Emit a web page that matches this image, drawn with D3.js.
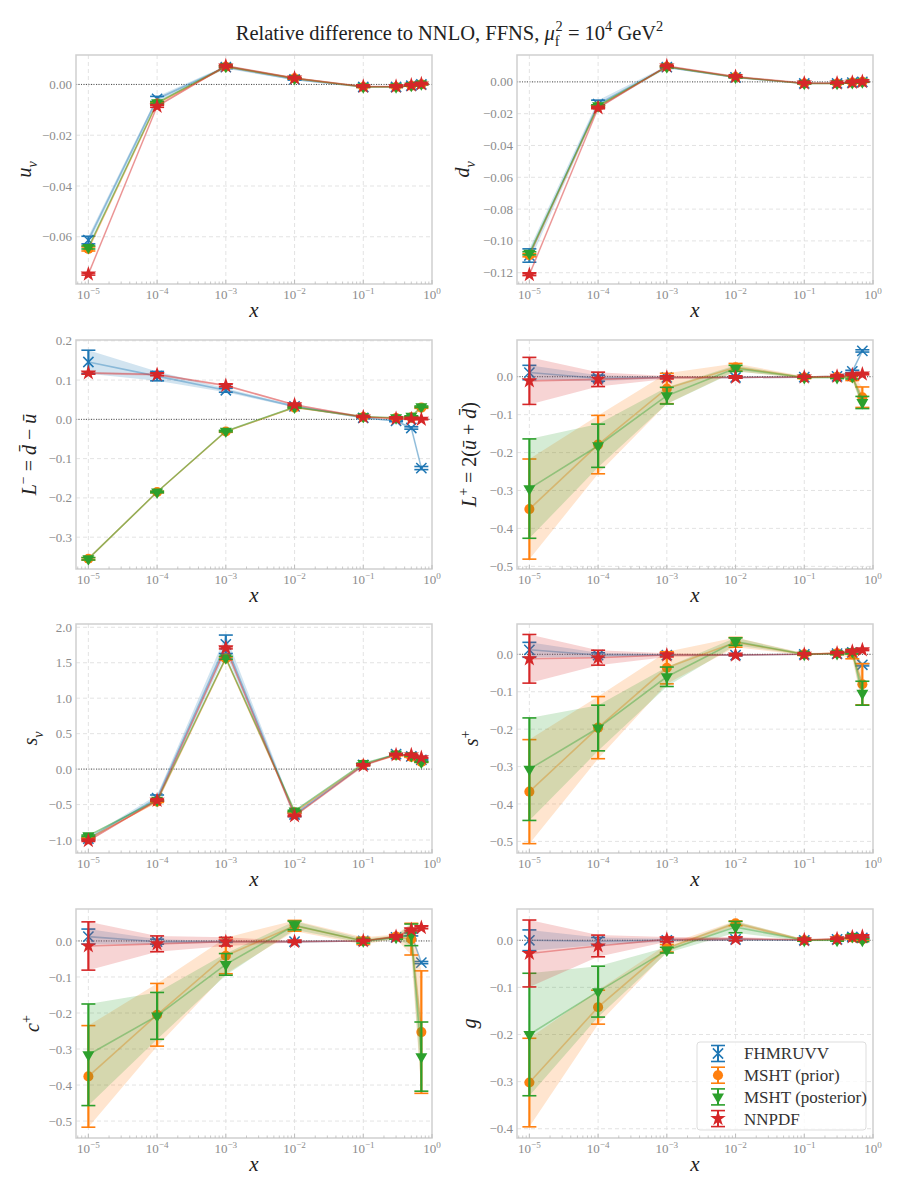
<!DOCTYPE html>
<html lang="en">
<head>
<meta charset="UTF-8">
<title>Relative difference to NNLO, FFNS</title>
<script src="https://cdnjs.cloudflare.com/ajax/libs/d3/7.8.5/d3.min.js"></script>
<style>
  body { margin: 0; background: #ffffff; }
  svg text { font-family: "Liberation Serif", "DejaVu Serif", serif; }
</style>
</head>
<body>
<div id="chart"></div>
<script>
// ---- data ----
const xValues = [1e-5, 1e-4, 1e-3, 1e-2, 1e-1, 0.3, 0.5, 0.7];
const xTicks = [1e-5, 1e-4, 1e-3, 1e-2, 1e-1, 1];
const xTickExponents = ["−5", "−4", "−3", "−2", "−1", "0"];
const seriesNames = ["FHMRUVV", "MSHT (prior)", "MSHT (posterior)", "NNPDF"];
const seriesColors = ["#1f77b4", "#ff7f0e", "#2ca02c", "#d62728"];
const seriesMarkers = ["times", "circle", "triangle", "star"];

// order in each: FHMRUVV, MSHT (prior), MSHT (posterior), NNPDF
const uvCentral = [
  [-0.0613, -0.0057, 0.0068, 0.0020, -0.0010, -0.0010, -0.0005, 0.0000],
  [-0.0648, -0.0075, 0.0070, 0.0024, -0.0010, -0.0010, -0.0005, 0.0001],
  [-0.0642, -0.0072, 0.0071, 0.0024, -0.0009, -0.0009, -0.0004, 0.0002],
  [-0.0747, -0.0086, 0.0073, 0.0025, -0.0008, -0.0008, -0.0003, 0.0002]];
const uvError = [
  [0.0015, 0.0010, 0.0006, 0.0003, 0.0002, 0.0002, 0.0002, 0.0002],
  [0.0008, 0.0005, 0.0004, 0.0003, 0.0002, 0.0002, 0.0002, 0.0002],
  [0.0006, 0.0004, 0.0003, 0.0002, 0.0002, 0.0002, 0.0002, 0.0002],
  [0.0004, 0.0004, 0.0004, 0.0003, 0.0002, 0.0002, 0.0002, 0.0002]];
const uvTicks = [-0.06, -0.04, -0.02, 0];

const dvCentral = [
  [-0.1092, -0.0140, 0.0093, 0.0028, -0.0010, -0.0010, -0.0005, 0.0000],
  [-0.1090, -0.0155, 0.0095, 0.0030, -0.0010, -0.0010, -0.0005, 0.0000],
  [-0.1078, -0.0150, 0.0095, 0.0030, -0.0010, -0.0010, -0.0005, 0.0000],
  [-0.1212, -0.0164, 0.0100, 0.0033, -0.0008, -0.0008, -0.0003, 0.0002]];
const dvError = [
  [0.0042, 0.0025, 0.0008, 0.0004, 0.0003, 0.0003, 0.0003, 0.0003],
  [0.0010, 0.0006, 0.0004, 0.0003, 0.0002, 0.0002, 0.0002, 0.0002],
  [0.0010, 0.0006, 0.0004, 0.0003, 0.0002, 0.0002, 0.0002, 0.0002],
  [0.0006, 0.0005, 0.0004, 0.0003, 0.0002, 0.0002, 0.0002, 0.0002]];
const dvTicks = [-0.12, -0.10, -0.08, -0.06, -0.04, -0.02, 0];

const lmCentral = [
  [0.146, 0.110, 0.074, 0.033, 0.004, -0.004, -0.022, -0.124],
  [-0.355, -0.185, -0.031, 0.030, 0.006, 0.003, 0.005, 0.030],
  [-0.355, -0.185, -0.030, 0.031, 0.007, 0.004, 0.008, 0.032],
  [0.118, 0.114, 0.086, 0.037, 0.006, 0.002, 0.001, 0.000]];
const lmError = [
  [0.030, 0.012, 0.005, 0.003, 0.002, 0.002, 0.003, 0.004],
  [0.003, 0.002, 0.002, 0.002, 0.001, 0.001, 0.001, 0.002],
  [0.003, 0.002, 0.002, 0.002, 0.001, 0.001, 0.001, 0.002],
  [0.003, 0.003, 0.003, 0.002, 0.001, 0.001, 0.001, 0.001]];
const lmTicks = [-0.3, -0.2, -0.1, 0, 0.1, 0.2];

const lpCentral = [
  [0.011, -0.004, -0.002, -0.002, -0.001, 0.001, 0.014, 0.068],
  [-0.349, -0.179, -0.031, 0.025, -0.002, 0.000, -0.002, -0.054],
  [-0.295, -0.182, -0.050, 0.022, -0.002, -0.002, 0.000, -0.068],
  [-0.011, -0.007, -0.002, -0.002, -0.001, 0.001, 0.005, 0.007]];
const lpError = [
  [0.019, 0.008, 0.002, 0.002, 0.001, 0.001, 0.003, 0.003],
  [0.132, 0.077, 0.040, 0.010, 0.003, 0.003, 0.008, 0.027],
  [0.131, 0.057, 0.022, 0.008, 0.002, 0.003, 0.006, 0.016],
  [0.062, 0.019, 0.004, 0.002, 0.001, 0.001, 0.002, 0.002]];
const lpTicks = [-0.5, -0.4, -0.3, -0.2, -0.1, 0];

const svCentral = [
  [-0.98, -0.41, 1.76, -0.64, 0.060, 0.210, 0.18, 0.13],
  [-0.98, -0.46, 1.56, -0.61, 0.066, 0.197, 0.17, 0.10],
  [-0.94, -0.44, 1.57, -0.59, 0.080, 0.210, 0.19, 0.10],
  [-1.01, -0.44, 1.71, -0.66, 0.050, 0.200, 0.20, 0.16]];
const svError = [
  [0.02, 0.045, 0.13, 0.03, 0.01, 0.01, 0.01, 0.01],
  [0.01, 0.010, 0.02, 0.01, 0.005, 0.005, 0.005, 0.005],
  [0.01, 0.010, 0.02, 0.01, 0.005, 0.005, 0.005, 0.005],
  [0.01, 0.010, 0.015, 0.01, 0.005, 0.005, 0.005, 0.005]];
const svTicks = [-1.0, -0.5, 0, 0.5, 1.0, 1.5, 2.0];

const spCentral = [
  [0.012, -0.002, -0.002, -0.002, 0.000, 0.002, 0.005, -0.028],
  [-0.367, -0.196, -0.036, 0.032, 0.000, 0.003, 0.000, -0.080],
  [-0.307, -0.197, -0.060, 0.034, 0.000, 0.002, 0.007, -0.104],
  [-0.012, -0.009, -0.002, -0.002, 0.000, 0.003, 0.008, 0.012]];
const spError = [
  [0.020, 0.006, 0.002, 0.002, 0.001, 0.001, 0.003, 0.003],
  [0.139, 0.083, 0.043, 0.013, 0.003, 0.003, 0.012, 0.055],
  [0.137, 0.061, 0.026, 0.010, 0.002, 0.003, 0.006, 0.032],
  [0.065, 0.020, 0.005, 0.002, 0.001, 0.001, 0.002, 0.002]];
const spTicks = [-0.5, -0.4, -0.3, -0.2, -0.1, 0];

const cpCentral = [
  [0.012, -0.002, -0.002, -0.002, 0.000, 0.010, 0.018, -0.060],
  [-0.376, -0.205, -0.041, 0.042, 0.000, 0.012, 0.005, -0.253],
  [-0.316, -0.208, -0.065, 0.043, 0.000, 0.010, 0.017, -0.321],
  [-0.014, -0.008, -0.002, -0.002, 0.000, 0.012, 0.031, 0.037]];
const cpError = [
  [0.021, 0.007, 0.002, 0.002, 0.002, 0.002, 0.004, 0.003],
  [0.141, 0.087, 0.050, 0.015, 0.010, 0.006, 0.044, 0.170],
  [0.141, 0.065, 0.030, 0.012, 0.006, 0.005, 0.030, 0.096],
  [0.067, 0.022, 0.012, 0.002, 0.001, 0.002, 0.003, 0.003]];
const cpTicks = [-0.5, -0.4, -0.3, -0.2, -0.1, 0];

const gCentral = [
  [0.000, -0.002, 0.000, 0.002, 0.000, 0.002, 0.007, 0.005],
  [-0.302, -0.142, -0.017, 0.036, 0.000, 0.002, 0.006, 0.002],
  [-0.200, -0.109, -0.021, 0.028, 0.000, 0.000, 0.008, 0.000],
  [-0.028, -0.012, 0.002, 0.003, 0.001, 0.003, 0.007, 0.008]];
const gError = [
  [0.022, 0.008, 0.003, 0.003, 0.001, 0.001, 0.002, 0.002],
  [0.094, 0.036, 0.008, 0.005, 0.002, 0.002, 0.003, 0.003],
  [0.130, 0.054, 0.006, 0.012, 0.002, 0.002, 0.003, 0.003],
  [0.071, 0.023, 0.005, 0.004, 0.001, 0.001, 0.002, 0.002]];
const gTicks = [-0.4, -0.3, -0.2, -0.1, 0];

// ---- panels ----
// label parts: t text, i italic, sub / sup
const panels = [
  { label: [{t: "u", i: 1}, {t: "v", i: 1, sub: 1}], c: uvCentral, e: uvError, ticks: uvTicks, digits: 2, dom: [-0.0786, 0.0116], lab: 45 },
  { label: [{t: "d", i: 1}, {t: "v", i: 1, sub: 1}], c: dvCentral, e: dvError, ticks: dvTicks, digits: 2, dom: [-0.1271, 0.0169], lab: 48 },
  { label: [{t: "L", i: 1}, {t: "−", sup: 1}, {t: " = "}, {t: "d\u0304", i: 1}, {t: " − "}, {t: "u\u0304", i: 1}],
    c: lmCentral, e: lmError, ticks: lmTicks, digits: 1, dom: [-0.381, 0.202], lab: 40 },
  { label: [{t: "L", i: 1}, {t: "+", sup: 1}, {t: " = 2("}, {t: "u\u0304", i: 1}, {t: " + "}, {t: "d\u0304", i: 1}, {t: ")"}],
    c: lpCentral, e: lpError, ticks: lpTicks, digits: 1, dom: [-0.507, 0.0968], lab: 41 },
  { label: [{t: "s", i: 1}, {t: "v", i: 1, sub: 1}], c: svCentral, e: svError, ticks: svTicks, digits: 1, dom: [-1.183, 2.046], lab: 39 },
  { label: [{t: "s", i: 1}, {t: "+", sup: 1}], c: spCentral, e: spError, ticks: spTicks, digits: 1, dom: [-0.531, 0.081], lab: 39 },
  { label: [{t: "c", i: 1}, {t: "+", sup: 1}], c: cpCentral, e: cpError, ticks: cpTicks, digits: 1, dom: [-0.547, 0.0887], lab: 37 },
  { label: [{t: "g", i: 1}], c: gCentral, e: gError, ticks: gTicks, digits: 1, dom: [-0.4197, 0.0664], lab: 41 }
];

const W = 899, H = 1191;
const colLeft = [76, 517];
const rowTop = [55, 340, 624, 909];
const pw = 356, ph = 229;
const tickGrey = "#8c8c8c";

const svg = d3.select("#chart").append("svg")
  .attr("width", W).attr("height", H);

// writes a list of parts into a text element, tracking sub/sup offsets
function richText(text, parts, size) {
  let level = 0;
  parts.forEach(p => {
    const target = p.sub ? 0.3 * size : p.sup ? -0.42 * size : 0;
    const ts = text.append("tspan")
      .attr("dy", target - level)
      .style("font-size", (p.sub || p.sup) ? (size * 0.7) + "px" : size + "px")
      .style("font-style", p.i ? "italic" : "normal")
      .text(p.t);
    if (p.dx) ts.attr("dx", p.dx);
    level = target;
  });
}

const fmtMinus = (v, d) => {
  const s = Math.abs(v) < 1e-12 ? (0).toFixed(d) : v.toFixed(d);
  return s.replace("-", "−");
};

const xDomain = [Math.pow(10, -5.18), 1];
const minorTicks = [];
for (let k = -6; k < 0; k++) {
  for (let m = 2; m <= 9; m++) {
    const v = m * Math.pow(10, k);
    if (v > xDomain[0] && v < 1) minorTicks.push(v);
  }
}

function markerPath(kind) {
  if (kind === "times") return d3.symbol(d3.symbolTimes, 70)();
  if (kind === "circle") return d3.symbol(d3.symbolCircle, 80)();
  if (kind === "triangle") return d3.symbol(d3.symbolTriangle, 62)();
  return d3.symbol(d3.symbolStar, 75)();
}

function drawMarker(sel, kind, color) {
  const m = sel.append("path").attr("d", markerPath(kind));
  if (kind === "times") {
    m.attr("fill", "none").attr("stroke", color).attr("stroke-width", 1.5);
  } else {
    m.attr("fill", color).attr("stroke", "none");
  }
  if (kind === "triangle") m.attr("transform", "rotate(180)");
  return m;
}

panels.forEach((p, idx) => {
  const col = idx % 2, row = Math.floor(idx / 2);
  const g = svg.append("g").attr("transform", `translate(${colLeft[col]},${rowTop[row]})`);

  const x = d3.scaleLog().domain(xDomain).range([0, pw]);
  const y = d3.scaleLinear().domain(p.dom).range([ph, 0]);

  // grid
  g.selectAll(".gx").data(xTicks.slice(0, 5)).join("line")
    .attr("x1", d => x(d)).attr("x2", d => x(d))
    .attr("y1", 0).attr("y2", ph)
    .attr("stroke", "#dcdcdc").attr("stroke-width", 0.8).attr("stroke-dasharray", "4,3");
  g.selectAll(".gy").data(p.ticks).join("line")
    .attr("x1", 0).attr("x2", pw)
    .attr("y1", d => y(d)).attr("y2", d => y(d))
    .attr("stroke", "#dcdcdc").attr("stroke-width", 0.8).attr("stroke-dasharray", "4,3");

  // zero reference
  g.append("line")
    .attr("x1", 0).attr("x2", pw).attr("y1", y(0)).attr("y2", y(0))
    .attr("stroke", "#222").attr("stroke-width", 0.8).attr("stroke-dasharray", "1,1.5");

  // series
  seriesNames.forEach((name, s) => {
    const color = seriesColors[s];
    const pts = xValues.map((xv, i) => ({ x: xv, c: p.c[s][i], e: p.e[s][i] }));

    g.append("path").datum(pts)
      .attr("d", d3.area().x(d => x(d.x)).y0(d => y(d.c - d.e)).y1(d => y(d.c + d.e)))
      .attr("fill", color).attr("fill-opacity", 0.2);

    g.append("path").datum(pts)
      .attr("d", d3.line().x(d => x(d.x)).y(d => y(d.c)))
      .attr("fill", "none").attr("stroke", color)
      .attr("stroke-opacity", 0.4).attr("stroke-width", 1.6);

    const eb = g.append("g").attr("stroke", color);
    pts.forEach(d => {
      const cx = x(d.x), yt = y(d.c + d.e), yb = y(d.c - d.e);
      eb.append("line").attr("x1", cx).attr("x2", cx).attr("y1", yt).attr("y2", yb).attr("stroke-width", 2.2);
      eb.append("line").attr("x1", cx - 7).attr("x2", cx + 7).attr("y1", yt).attr("y2", yt).attr("stroke-width", 1.6);
      eb.append("line").attr("x1", cx - 7).attr("x2", cx + 7).attr("y1", yb).attr("y2", yb).attr("stroke-width", 1.6);
    });

    pts.forEach(d => {
      const mg = g.append("g").attr("transform", `translate(${x(d.x)},${y(d.c)})`);
      drawMarker(mg, seriesMarkers[s], color);
    });
  });

  // frame
  g.append("rect").attr("width", pw).attr("height", ph)
    .attr("fill", "none").attr("stroke", "#cfcfcf").attr("stroke-width", 1.5);

  // x ticks (inward)
  g.selectAll(".mt").data(minorTicks).join("line")
    .attr("x1", d => x(d)).attr("x2", d => x(d))
    .attr("y1", ph).attr("y2", ph - 2.5)
    .attr("stroke", "#bdbdbd").attr("stroke-width", 0.8);
  g.selectAll(".Mt").data(xTicks).join("line")
    .attr("x1", d => x(d)).attr("x2", d => x(d))
    .attr("y1", ph).attr("y2", ph - 4)
    .attr("stroke", "#bdbdbd").attr("stroke-width", 1);

  // x tick labels
  xTicks.forEach((t, i) => {
    const tx = g.append("text")
      .attr("x", x(t)).attr("y", ph + 15)
      .attr("text-anchor", "middle").attr("fill", tickGrey);
    richText(tx, [{t: "10"}, {t: xTickExponents[i], sup: 1}], 13);
  });

  // y tick labels
  g.selectAll(".yl").data(p.ticks).join("text")
    .attr("x", -4).attr("y", d => y(d)).attr("dy", "0.35em")
    .attr("text-anchor", "end").attr("fill", tickGrey)
    .style("font-size", "13px")
    .text(d => fmtMinus(d, p.digits));

  // axis labels
  g.append("text")
    .attr("x", pw / 2).attr("y", ph + 33)
    .attr("text-anchor", "middle").attr("fill", "#222")
    .style("font-size", "21px").style("font-style", "italic")
    .text("x");

  const yl = g.append("text")
    .attr("transform", `translate(${-p.lab},${ph / 2}) rotate(-90)`)
    .attr("text-anchor", "middle").attr("fill", "#222");
  richText(yl, p.label, 20);

  // legend in the last panel
  if (idx === panels.length - 1) {
    const lw = 169, lh = 88;
    const lg = g.append("g").attr("transform", `translate(${pw - 7 - lw},${ph - 8 - lh})`);
    lg.append("rect").attr("width", lw).attr("height", lh).attr("rx", 3)
      .attr("fill", "#ffffff").attr("fill-opacity", 0.8)
      .attr("stroke", "#dddddd").attr("stroke-width", 1);
    seriesNames.forEach((name, s) => {
      const cy = 11.5 + s * 21.7;
      const color = seriesColors[s];
      const row = lg.append("g").attr("stroke", color);
      row.append("line").attr("x1", 21).attr("x2", 21).attr("y1", cy - 8).attr("y2", cy + 8).attr("stroke-width", 2);
      row.append("line").attr("x1", 14).attr("x2", 28).attr("y1", cy - 8).attr("y2", cy - 8).attr("stroke-width", 1.6);
      row.append("line").attr("x1", 14).attr("x2", 28).attr("y1", cy + 8).attr("y2", cy + 8).attr("stroke-width", 1.6);
      const mg = lg.append("g").attr("transform", `translate(21,${cy})`);
      drawMarker(mg, seriesMarkers[s], color);
      lg.append("text").attr("x", 47).attr("y", cy).attr("dy", "0.35em")
        .attr("fill", "#333").style("font-size", "17px").text(name);
    });
  }
});

// title
const title = svg.append("text")
  .attr("x", W / 2).attr("y", 40)
  .attr("text-anchor", "middle").attr("fill", "#222");
richText(title, [
  {t: "Relative difference to NNLO, FFNS, "},
  {t: "μ", i: 1},
  {t: "f", sub: 1},
  {t: "2", sup: 1, dx: -4},
  {t: " = 10"},
  {t: "4", sup: 1},
  {t: " GeV"},
  {t: "2", sup: 1}
], 20.5);
</script>
</body>
</html>
